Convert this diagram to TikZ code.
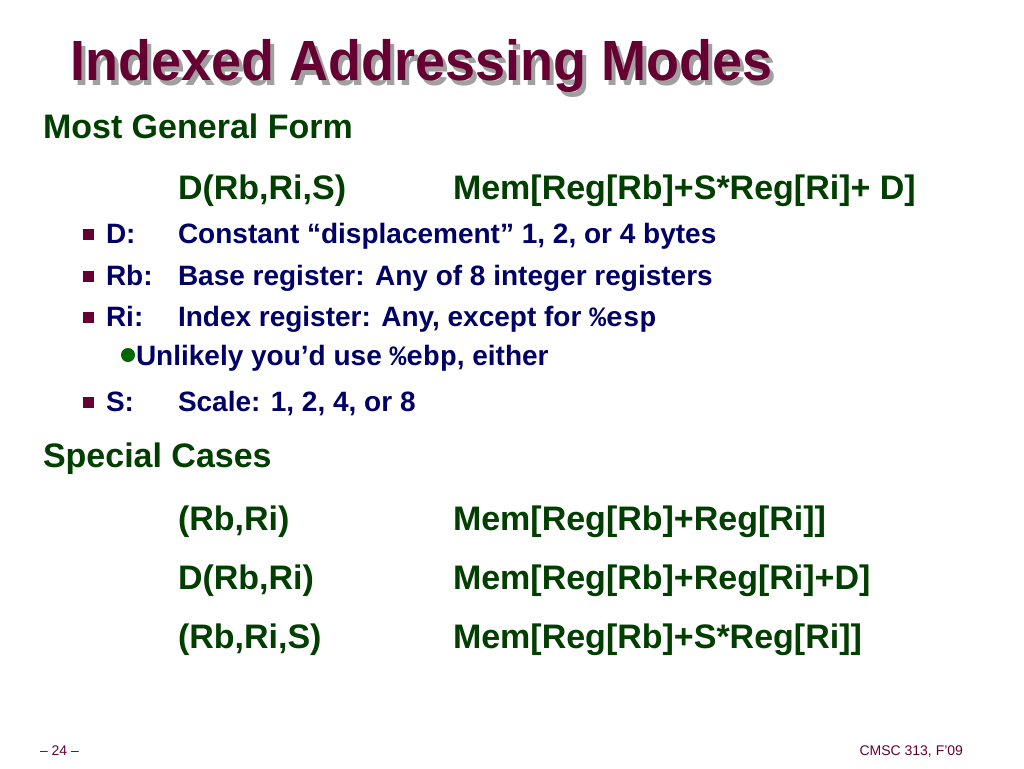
\documentclass[tikz,border=0pt]{standalone}
\usepackage{fontspec}
\setmainfont{Liberation Sans}
\setmonofont{Liberation Mono}
\definecolor{maroon}{HTML}{660033}
\definecolor{shadowgray}{HTML}{A0A0A0}
\definecolor{dgreen}{HTML}{003F00}
\definecolor{navy}{HTML}{000066}
\definecolor{bgreen}{HTML}{006600}
\newcommand{\tallbox}[1]{\scalebox{1}[1.05]{#1}}
\begin{document}
\begin{tikzpicture}[x=1pt,y=-1pt,
  txt/.style={anchor=base west,inner sep=0pt,outer sep=0pt},
  titlefont/.style={txt,font=\fontsize{54}{60}\selectfont\bfseries},
  headfont/.style={txt,text=dgreen,font=\fontsize{34}{40}\selectfont\bfseries},
  bulfont/.style={txt,text=navy,font=\fontsize{28}{32}\selectfont\bfseries},
  footfont/.style={txt,text=maroon,font=\fontsize{14}{16}\selectfont},
  sqbullet/.style={fill=maroon,minimum size=11pt,inner sep=0pt,draw=none},
  dotbullet/.style={circle,fill=bgreen,minimum size=14pt,inner sep=0pt,draw=none}]
\useasboundingbox[fill=white] (0,0) rectangle (1024,768);
% title
\node[titlefont,text=shadowgray] (titleshadow) at (74,85) {\tallbox{Indexed Addressing Modes}};
\node[titlefont,text=maroon] (title) at (70,81) {\tallbox{Indexed Addressing Modes}};
% general form
\node[headfont] (gen) at (43,138) {Most General Form};
\node[headfont] (genl) at (178,199) {D(Rb,Ri,S)};
\node[headfont] (genr) at (453,199) {Mem[Reg[Rb]+S*Reg[Ri]+ D]};
% bullets
\node[sqbullet] (b1) at (88,234) {};
\node[bulfont] (b1l) at (106,243) {D:};
\node[bulfont] (b1r) at (178,243) {Constant “displacement” 1, 2, or 4 bytes};
\node[sqbullet] (b2) at (88,276) {};
\node[bulfont] (b2l) at (106,285) {Rb:};
\node[bulfont] (b2r) at (178,285) {Base register: Any of 8 integer registers};
\node[sqbullet] (b3) at (88,317) {};
\node[bulfont] (b3l) at (106,326) {Ri:};
\node[bulfont] (b3r) at (178,326) {Index register: Any, except for \texttt{\%esp}};
\node[dotbullet] (b4) at (128,355) {};
\node[bulfont] (b4r) at (136,365) {Unlikely you’d use \texttt{\%ebp}, either};
\node[sqbullet] (b5) at (88,402) {};
\node[bulfont] (b5l) at (106,411) {S:};
\node[bulfont] (b5r) at (178,411) {Scale: 1, 2, 4, or 8};
% special cases
\node[headfont] (spec) at (43,467) {Special Cases};
\node[headfont] (s1l) at (178,530) {(Rb,Ri)};
\node[headfont] (s1r) at (453,530) {Mem[Reg[Rb]+Reg[Ri]]};
\node[headfont] (s2l) at (178,589) {D(Rb,Ri)};
\node[headfont] (s2r) at (453,589) {Mem[Reg[Rb]+Reg[Ri]+D]};
\node[headfont] (s3l) at (178,648) {(Rb,Ri,S)};
\node[headfont] (s3r) at (453,648) {Mem[Reg[Rb]+S*Reg[Ri]]};
% footer
\node[footfont] (page) at (40,755) {– 24 –};
\node[footfont,anchor=base east] (course) at (963,755) {CMSC 313, F’09};
\end{tikzpicture}
\end{document}
